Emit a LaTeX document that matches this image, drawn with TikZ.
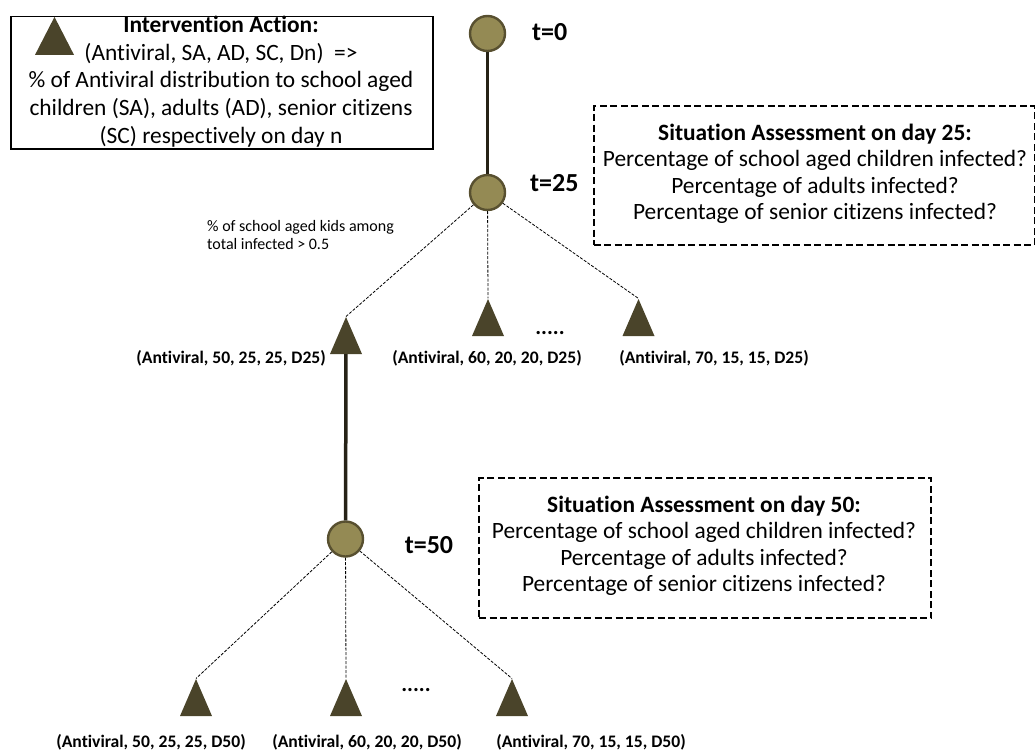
\documentclass[tikz,border=0pt]{standalone}
\usepackage{fontspec}
\setmainfont{Carlito}[Ligatures=NoCommon]
\usetikzlibrary{shapes.geometric}
\definecolor{stateFill}{RGB}{148,138,84}
\definecolor{stateEdge}{RGB}{88,80,48}
\definecolor{actionFill}{RGB}{74,68,42}
\definecolor{trunk}{RGB}{38,34,22}
\begin{document}
\begin{tikzpicture}[x=1pt,y=-1pt,
  state/.style={circle, minimum size=35pt, inner sep=0pt, fill=stateFill, draw=stateEdge, line width=2.4pt},
  action/.style={isosceles triangle, shape border rotate=90, isosceles triangle stretches,
    minimum width=32pt, minimum height=37pt, inner sep=0pt, fill=actionFill},
  timeline/.style={draw=trunk, line width=3.5pt},
  branch/.style={draw=black, line width=0.8pt, dash pattern=on 3pt off 1.5pt},
  actlabel/.style={font=\fontsize{17.6}{20}\selectfont\bfseries, inner sep=0pt},
  timelabel/.style={font=\fontsize{26}{28}\selectfont\bfseries, inner sep=0pt},
  assess/.style={draw=black, line width=2.2pt, dash pattern=on 7pt off 3.5pt, inner sep=0pt},
  assesstext/.style={font=\fontsize{23.4}{26.5}\selectfont, align=center, inner sep=0pt},
  dots/.style={font=\fontsize{22}{24}\selectfont\bfseries, inner sep=0pt}
]
\useasboundingbox (0,0) rectangle (1035,752);

% legend box
\node[draw=black, line width=1.5pt, minimum width=422pt, minimum height=132pt, anchor=north west, inner sep=0pt] (legend) at (10,16) {};
\node[font=\fontsize{23.4}{27.8}\selectfont, align=center, inner sep=0pt] (legendtext) at (221,81.5)
  {\textbf{Intervention Action:}\\
   (Antiviral, SA, AD, SC, Dn)\ \ =>\\
   \% of Antiviral distribution to school aged\\
   children (SA), adults (AD), senior citizens\\
   (SC) respectively on day n};
\node[action, minimum width=39pt, minimum height=38pt] (legendicon) at (54.5,43) {};

% decision tree states
\node[state] (s0) at (487.5,33.5) {};
\node[state] (s25) at (487.5,192.5) {};
\node[state] (s50) at (345.5,539) {};
\node[timelabel, anchor=west] (l0) at (532,32) {t=0};
\node[timelabel, anchor=west] (l25) at (530,183) {t=25};
\node[timelabel] (l50) at (429,545) {t=50};

% actions on day 25
\node[action] (a1) at (346,343.5) {};
\node[action] (a2) at (488,325.5) {};
\node[action] (a3) at (638.5,325.5) {};
\node[dots] (d25) at (550,333) {.....};
\node[actlabel, anchor=east] (a1l) at (326,358) {(Antiviral, 50, 25, 25, D25)};
\node[actlabel] (a2l) at (487,358) {(Antiviral, 60, 20, 20, D25)};
\node[actlabel] (a3l) at (714,358) {(Antiviral, 70, 15, 15, D25)};

% actions on day 50
\node[action] (b1) at (196,705.5) {};
\node[action] (b2) at (346,705.5) {};
\node[action] (b3) at (512,705.5) {};
\node[dots] (d50) at (416,690) {.....};
\node[actlabel] (b1l) at (151,742) {(Antiviral, 50, 25, 25, D50)};
\node[actlabel] (b2l) at (367,742) {(Antiviral, 60, 20, 20, D50)};
\node[actlabel] (b3l) at (591,742) {(Antiviral, 70, 15, 15, D50)};

% condition on the chosen branch
\node[font=\fontsize{16}{18}\selectfont, align=left, anchor=west, inner sep=0pt] (cond) at (207,235)
  {\% of school aged kids among\\total infected > 0.5};

% connectors
\draw[timeline] (s0) -- (s25);
\draw[timeline] (a1) -- (s50);
\draw[branch] (s25) -- (a1.apex);
\draw[branch] (s25) -- (a2.apex);
\draw[branch] (s25) -- (a3.apex);
\draw[branch] (s50) -- (b1.apex);
\draw[branch] (s50) -- (b2.apex);
\draw[branch] (s50) -- (b3.apex);

% situation assessments
\node[assess, minimum width=441pt, minimum height=139pt, anchor=north west] (sa25) at (592.5,105) {};
\node[assesstext] (sa25text) at (815,174)
  {\textbf{Situation Assessment on day 25:}\\
   Percentage of school aged children infected?\\
   Percentage of adults infected?\\
   Percentage of senior citizens infected?};
\node[assess, minimum width=452pt, minimum height=140pt, anchor=north west] (sa50) at (478,477) {};
\node[assesstext] (sa50text) at (704,546)
  {\textbf{Situation Assessment on day 50:}\\
   Percentage of school aged children infected?\\
   Percentage of adults infected?\\
   Percentage of senior citizens infected?};
\end{tikzpicture}
\end{document}
